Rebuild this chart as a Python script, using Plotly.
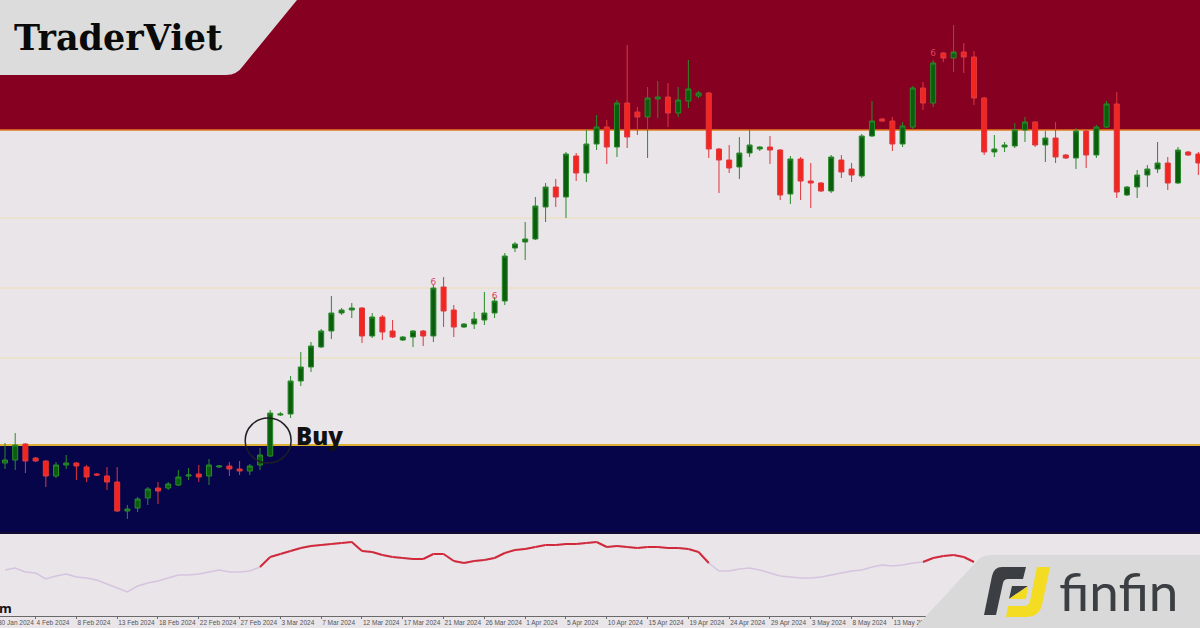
import plotly.graph_objects as go

# ---------------- data ----------------
bar_index = list(range(118))

open_ = [2037, 2040, 2056, 2042, 2039, 2024, 2035, 2037, 2033, 2026,
         2024, 2018, 1989, 1992, 2002, 2012, 2012, 2015, 2024, 2026,
         2024, 2033, 2034, 2031, 2029, 2035, 2044, 2085, 2086, 2119,
         2133, 2153, 2169, 2187, 2190, 2192, 2164, 2183, 2169, 2160,
         2163, 2169, 2164, 2213, 2190, 2173, 2176, 2180, 2187, 2199,
         2252, 2258, 2261, 2293, 2313, 2303, 2344, 2327, 2356, 2373,
         2353, 2397, 2388, 2383, 2401, 2403, 2387, 2399, 2404, 2407,
         2351, 2340, 2333, 2347, 2351, 2353, 2350, 2306, 2341, 2319,
         2317, 2309, 2340, 2331, 2324, 2364, 2381, 2379, 2356, 2373,
         2412, 2397, 2447, 2442, 2448, 2443, 2402, 2348, 2353, 2354,
         2370, 2378, 2355, 2362, 2345, 2342, 2369, 2345, 2373, 2396,
         2305, 2313, 2325, 2331, 2337, 2317, 2348, 2346]

high = [2057, 2067, 2057, 2043, 2040, 2038, 2045, 2038, 2035, 2027,
        2033, 2033, 1995, 2003, 2013, 2018, 2018, 2030, 2032, 2035,
        2041, 2035, 2038, 2039, 2036, 2052, 2090, 2088, 2124, 2148,
        2158, 2171, 2204, 2192, 2197, 2193, 2187, 2185, 2180, 2164,
        2170, 2170, 2215, 2223, 2195, 2177, 2188, 2208, 2203, 2247,
        2258, 2278, 2303, 2317, 2321, 2348, 2347, 2370, 2385, 2380,
        2400, 2455, 2393, 2413, 2419, 2417, 2413, 2440, 2409, 2408,
        2352, 2355, 2363, 2370, 2354, 2364, 2351, 2344, 2343, 2337,
        2318, 2345, 2345, 2337, 2366, 2399, 2382, 2383, 2378, 2414,
        2418, 2440, 2448, 2475, 2457, 2449, 2403, 2365, 2358, 2377,
        2383, 2379, 2369, 2378, 2346, 2372, 2370, 2375, 2399, 2408,
        2314, 2330, 2335, 2358, 2343, 2353, 2349, 2348]

low = [2031, 2030, 2027, 2038, 2013, 2022, 2031, 2020, 2018, 2024,
       2010, 1988, 1981, 1988, 1995, 1996, 2010, 2014, 2020, 2018,
       2015, 2032, 2024, 2025, 2025, 2030, 2043, 2084, 2082, 2114,
       2128, 2152, 2161, 2185, 2182, 2157, 2162, 2160, 2162, 2159,
       2153, 2154, 2158, 2173, 2163, 2172, 2171, 2175, 2182, 2195,
       2248, 2240, 2260, 2278, 2293, 2282, 2319, 2318, 2350, 2336,
       2343, 2352, 2365, 2342, 2382, 2373, 2383, 2392, 2402, 2342,
       2307, 2327, 2321, 2343, 2349, 2336, 2300, 2296, 2300, 2292,
       2308, 2307, 2322, 2318, 2322, 2363, 2378, 2349, 2353, 2371,
       2390, 2393, 2438, 2428, 2427, 2395, 2345, 2343, 2348, 2352,
       2358, 2353, 2338, 2337, 2341, 2331, 2332, 2342, 2372, 2302,
       2304, 2302, 2313, 2327, 2310, 2316, 2344, 2325]

close = [2040, 2055, 2039, 2039, 2024, 2035, 2037, 2034, 2023, 2025,
         2018, 1989, 1991, 2001, 2011, 2009, 2016, 2023, 2025, 2023,
         2035, 2034, 2031, 2029, 2034, 2045, 2087, 2086, 2119, 2133,
         2154, 2169, 2187, 2190, 2192, 2164, 2183, 2168, 2163, 2163,
         2169, 2164, 2212, 2189, 2173, 2176, 2181, 2187, 2199, 2244,
         2256, 2261, 2294, 2313, 2303, 2346, 2327, 2356, 2373, 2353,
         2397, 2363, 2383, 2402, 2403, 2387, 2400, 2411, 2407, 2351,
         2340, 2332, 2347, 2355, 2353, 2350, 2305, 2341, 2319, 2317,
         2309, 2343, 2328, 2325, 2364, 2379, 2379, 2356, 2374, 2412,
         2397, 2437, 2442, 2448, 2443, 2402, 2348, 2351, 2355, 2370,
         2378, 2355, 2362, 2343, 2342, 2369, 2345, 2373, 2396, 2308,
         2313, 2325, 2331, 2337, 2317, 2350, 2345, 2337]

# oscillator in the lower panel (one value per bar, visible part)
osc = [50, 52, 48, 47, 41, 44, 46, 43, 42, 40,
       36, 32, 28, 34, 37, 39, 42, 45, 45, 46,
       48, 50, 48, 48, 49, 53, 63, 66, 69, 72,
       74, 75, 76, 77, 78, 69, 68, 65, 63, 62,
       61, 61, 66, 66, 59, 57, 59, 60, 62, 67,
       70, 71, 73, 75, 75, 76, 76, 77, 78, 73,
       74, 73, 72, 73, 73, 72, 72, 71, 68, 57,
       49, 49, 51, 52, 50, 47, 44, 43, 42, 42,
       43, 45, 47, 49, 50, 53, 55, 54, 55, 57,
       58, 62, 64, 65, 63, 58]
osc_threshold = 59

signal_index = [42, 48, 91]
signal_price = [2217, 2203, 2446]

zone_supply = [2370, 2500]
zone_demand = [1968, 2055]
mid_levels = [2142, 2212, 2282]

tick_index = [-1, 3, 7, 11, 15, 19, 23, 27, 31, 35, 39, 43, 47, 51, 55, 59,
              63, 67, 71, 75, 79, 83, 87]
tick_labels = ["30 Jan 2024", "4 Feb 2024", "8 Feb 2024", "13 Feb 2024",
               "18 Feb 2024", "22 Feb 2024", "27 Feb 2024", "3 Mar 2024",
               "7 Mar 2024", "12 Mar 2024", "17 Mar 2024", "21 Mar 2024",
               "26 Mar 2024", "1 Apr 2024", "5 Apr 2024", "10 Apr 2024",
               "15 Apr 2024", "19 Apr 2024", "24 Apr 2024", "29 Apr 2024",
               "3 May 2024", "8 May 2024", "13 May 2024"]

buy_bar = 26

# ---------------- figure ----------------
W, H = 1200, 628
BG = "#E9E5E9"


def pp(cmds):
    """pixel path -> paper path"""
    out = []
    for c in cmds:
        op = c[0]
        nums = c[1:]
        pts = []
        for k in range(0, len(nums), 2):
            pts.append(f"{nums[k] / W:.5f},{1 - nums[k + 1] / H:.5f}")
        out.append(op + " " + " ".join(pts))
    return " ".join(out)


fig = go.Figure()

fig.add_trace(go.Candlestick(
    x=bar_index, open=open_, high=high, low=low, close=close,
    increasing=dict(line=dict(color="#2A8A2A", width=1), fillcolor="#0A5E0E"),
    decreasing=dict(line=dict(color="#E0363C", width=1), fillcolor="#F2261E"),
    whiskerwidth=0, hoverinfo="skip", showlegend=False,
    xaxis="x", yaxis="y"))

fig.add_trace(go.Scatter(
    x=signal_index, y=signal_price, mode="text", text=["6"] * len(signal_index),
    textfont=dict(color="#E0405A", size=9, family="DejaVu Sans"),
    hoverinfo="skip", showlegend=False, xaxis="x", yaxis="y"))

# oscillator: base lavender line + red segments above threshold
osc_x = list(range(len(osc)))
fig.add_trace(go.Scatter(
    x=osc_x, y=osc, mode="lines", line=dict(color="#D6C4DF", width=1.5),
    hoverinfo="skip", showlegend=False, xaxis="x2", yaxis="y2"))
rx, ry = [], []
for k in range(len(osc) - 1):
    if osc[k] >= osc_threshold or osc[k + 1] >= osc_threshold:
        rx += [osc_x[k], osc_x[k + 1], None]
        ry += [osc[k], osc[k + 1], None]
fig.add_trace(go.Scatter(
    x=rx, y=ry, mode="lines", line=dict(color="#D2293A", width=2),
    hoverinfo="skip", showlegend=False, xaxis="x2", yaxis="y2"))

shapes = []
# zones
shapes.append(dict(type="rect", xref="paper", yref="y", x0=0, x1=1,
                   y0=zone_supply[0], y1=zone_supply[1], fillcolor="#860022",
                   line=dict(width=0), layer="below"))
shapes.append(dict(type="rect", xref="paper", yref="y", x0=0, x1=1,
                   y0=zone_demand[0], y1=zone_demand[1], fillcolor="#07054A",
                   line=dict(width=0), layer="below"))
for lv in mid_levels:
    shapes.append(dict(type="line", xref="paper", yref="y", x0=0, x1=1, y0=lv, y1=lv,
                       line=dict(color="#EDDDB2", width=1), layer="below"))
shapes.append(dict(type="line", xref="paper", yref="y", x0=0, x1=1,
                   y0=zone_supply[0], y1=zone_supply[0],
                   line=dict(color="#E2781C", width=1.6), layer="below"))
shapes.append(dict(type="line", xref="paper", yref="y", x0=0, x1=1,
                   y0=zone_demand[1], y1=zone_demand[1],
                   line=dict(color="#DDB033", width=1.8), layer="below"))
# separator between panels
shapes.append(dict(type="line", xref="paper", yref="paper", x0=0, x1=1,
                   y0=1 - 533 / H, y1=1 - 533 / H,
                   line=dict(color="#140C30", width=2)))
# buy circle
shapes.append(dict(type="circle", xref="x", yref="y",
                   x0=buy_bar - 2.45, x1=buy_bar + 2.05, y0=2037, y1=2082,
                   line=dict(color="#1E1E24", width=1.5)))

# TraderViet logo background
shapes.append(dict(type="path", xref="paper", yref="paper", layer="above",
                   path=pp([("M", 0, 0), ("L", 297, 0), ("L", 243, 66),
                            ("Q", 237, 75, 226, 75), ("L", 0, 75), ("Z",)]),
                   fillcolor="#DCDCDC", line=dict(width=0)))
# finfin logo background
shapes.append(dict(type="path", xref="paper", yref="paper", layer="above",
                   path=pp([("M", 992, 555), ("L", 1200, 555), ("L", 1200, 628),
                            ("L", 915, 628), ("L", 978, 560),
                            ("Q", 983, 555, 992, 555), ("Z",)]),
                   fillcolor="#D9D9D9", line=dict(width=0)))
# finfin icon (dark part)
shapes.append(dict(type="path", xref="paper", yref="paper", layer="above",
                   path=pp([("M", 1002, 567), ("L", 1026, 567), ("L", 1023, 579),
                            ("L", 1008, 579), ("Q", 1004, 579, 1003, 583),
                            ("L", 996, 615), ("L", 984, 615), ("L", 992, 576),
                            ("Q", 994, 567, 1002, 567), ("Z",)]),
                   fillcolor="#3B3E42", line=dict(width=0)))
shapes.append(dict(type="path", xref="paper", yref="paper", layer="above",
                   path=pp([("M", 1012, 586), ("L", 1028, 586), ("L", 1009, 599), ("Z",)]),
                   fillcolor="#3B3E42", line=dict(width=0)))
# finfin icon (yellow part)
shapes.append(dict(type="path", xref="paper", yref="paper", layer="above",
                   path=pp([("M", 1028, 586), ("L", 1026, 599), ("L", 1009, 599), ("Z",)]),
                   fillcolor="#F4DC22", line=dict(width=0)))
shapes.append(dict(type="path", xref="paper", yref="paper", layer="above",
                   path=pp([("M", 1037, 567), ("L", 1050, 567), ("L", 1042, 605),
                            ("Q", 1039, 617, 1026, 617), ("L", 1006, 617),
                            ("L", 1008, 606), ("L", 1024, 606),
                            ("Q", 1029, 606, 1030, 601), ("Z",)]),
                   fillcolor="#F4DC22", line=dict(width=0)))

annotations = [
    dict(text="Buy", xref="x", yref="y", x=buy_bar + 2.3, y=2065,
         xanchor="left", yanchor="middle", showarrow=False,
         font=dict(family="Open Sans", size=24, color="#111111", weight=800)),
    dict(text="<b>TraderViet</b>", xref="paper", yref="paper", x=12 / W, y=1 - 38 / H,
         xanchor="left", yanchor="middle", showarrow=False,
         font=dict(family="DejaVu Serif", size=35, color="#0A0A0A")),
    dict(text="finfin", xref="paper", yref="paper", x=1057 / W, y=1 - 590 / H,
         xanchor="left", yanchor="middle", showarrow=False,
         font=dict(family="Lato", size=53, color="#3B3E42")),
    dict(text="<b>om</b>", xref="paper", yref="paper", x=14 / W, y=1 - 608 / H,
         xanchor="right", yanchor="middle", showarrow=False,
         font=dict(family="Open Sans", size=13, color="#111111")),
    dict(text=tick_labels[0], xref="paper", yref="paper", x=-4 / W, y=1 - 622 / H,
         xanchor="left", yanchor="middle", showarrow=False,
         font=dict(family="Liberation Sans", size=6.5, color="#555555")),
]

x_range = [-0.49, 117.16]

fig.update_layout(
    width=W, height=H, template="none",
    margin=dict(l=0, r=0, t=0, b=0),
    paper_bgcolor=BG, plot_bgcolor=BG, showlegend=False,
    xaxis=dict(domain=[0, 1], range=x_range, anchor="y", visible=False,
               showgrid=False, zeroline=False, rangeslider=dict(visible=False)),
    yaxis=dict(domain=[1 - 532 / H, 1], range=[1968, 2500], visible=False,
               showgrid=False, zeroline=False),
    xaxis2=dict(domain=[0, 1], range=x_range, anchor="y2", showgrid=False,
                zeroline=False, showline=True, linecolor="#6A6A6A", linewidth=1,
                ticks="outside", ticklen=2, tickcolor="#6A6A6A", tickangle=0,
                tickmode="array", tickvals=tick_index[1:], ticktext=tick_labels[1:],
                ticklabelposition="outside right",
                tickfont=dict(family="Liberation Sans", size=6.5, color="#555555")),
    yaxis2=dict(domain=[1 - 616 / H, 1 - 534 / H], range=[4, 86], visible=False,
                showgrid=False, zeroline=False),
    shapes=shapes, annotations=annotations,
)

fig.write_html("out.html",
               config={"displayModeBar": False},
               post_script="document.body.style.margin='0';"
                           "document.body.style.padding='0';"
                           "document.body.style.overflow='hidden';")
